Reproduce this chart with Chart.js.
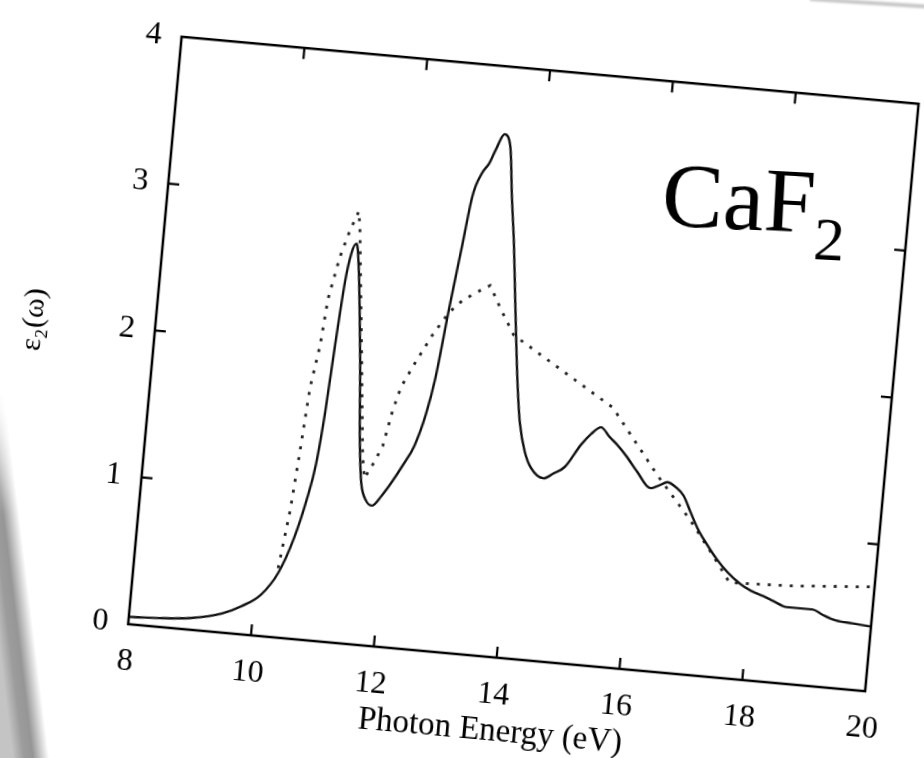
<!DOCTYPE html>
<html lang="en">

<head>
  <meta charset="utf-8">
  <title>CaF2 eps2</title>
  <script src="https://cdn.jsdelivr.net/npm/chart.js"></script>
  <style>
    body { margin: 0; width: 924px; height: 758px; overflow: hidden; background: #fff; position: relative; }
    #shade {
      position: absolute; left: -96px; top: 390px; width: 100px; height: 410px;
      background: linear-gradient(to right, #c4c4c4 0px, #c4c4c4 64px, #9c9c9c 75px, #969696 84px, #fff 100px);
      transform: rotate(-7deg); transform-origin: 100% 0;
      -webkit-mask-image: linear-gradient(to bottom, transparent 0%, #000 30%);
    }
    #edge {
      position: absolute; left: 810px; top: -3px; width: 140px; height: 4px;
      background: #c8c8c8; transform: rotate(3.7deg); transform-origin: 0 0; filter: blur(0.8px);
    }
    #wrap {
      position: absolute; left: 14.75px; top: 29.5px; width: 913px; height: 733px;
      transform-origin: 510px 327px; transform: rotate(5.2deg);
    }
    #label {
      position: absolute; left: 660px; top: 148px; font-family: "Liberation Serif", serif;
      font-size: 92px; line-height: 1; color: #000; white-space: nowrap;
      transform: rotate(3deg); transform-origin: 0 80%;
    }
    #label sub { font-size: 62px; vertical-align: -26px; }
  </style>
</head>

<body>
  <div id="shade"></div>
  <div id="edge"></div>
  <div id="wrap"><canvas id="chart" width="913" height="733"></canvas></div>
  <div id="label">CaF<sub>2</sub></div>

  <script>
    // solid curve
    const energy = [8.0, 8.5, 9.0, 9.5, 9.8, 10.1, 10.35, 10.55, 10.7, 10.8, 10.87, 10.93, 11.0, 11.06, 11.13,
      11.19, 11.28, 11.36, 11.47, 11.56, 11.66, 11.76, 11.9, 12.06, 12.2, 12.36, 12.5, 12.6, 12.72, 12.84,
      12.93, 13.06, 13.15, 13.24, 13.36, 13.47, 13.57, 13.67, 13.76, 13.84, 13.93, 14.03, 14.15, 14.28,
      14.49, 14.65, 14.82, 15.05, 15.2, 15.35, 15.5, 15.64, 15.8, 16.0, 16.23, 16.4, 16.5, 16.65, 16.78,
      16.92, 17.05, 17.2, 17.41, 17.6, 17.82, 18.0, 18.21, 18.4, 18.6, 18.8, 19.03, 19.2, 19.42, 19.7, 20.0];
    const eps2 = [0.05, 0.06, 0.08, 0.13, 0.19, 0.28, 0.44, 0.68, 0.95, 1.2, 1.55, 2.0, 2.45, 2.64, 2.71,
      2.58, 2.25, 1.92, 1.39, 1.09, 0.98, 0.95, 1.02, 1.13, 1.24, 1.38, 1.6, 1.85, 2.33, 2.77,
      3.1, 3.27, 3.33, 3.43, 3.54, 3.46, 3.12, 2.81, 2.48, 2.19, 1.88, 1.6, 1.41, 1.3,
      1.24, 1.28, 1.33, 1.49, 1.57, 1.62, 1.56, 1.51, 1.44, 1.34, 1.24, 1.27, 1.29, 1.26, 1.21,
      1.1, 1.0, 0.91, 0.8, 0.72, 0.65, 0.61, 0.58, 0.55, 0.52, 0.52, 0.52, 0.49, 0.46, 0.45, 0.44];

    // dotted curve
    const energyDot = [10.34, 10.45, 10.52, 10.59, 10.69, 10.75, 10.88, 11.0, 11.12, 11.16, 11.38, 11.54, 11.6,
      11.74, 11.85, 11.96, 12.06, 12.26, 12.49, 12.72, 12.92, 13.12, 13.35, 13.55, 13.8,
      15.51, 16.33, 16.92, 17.35, 17.65, 18.62, 20.0];
    const eps2Dot = [0.47, 0.87, 1.27, 1.71, 2.0, 2.32, 2.61, 2.79, 2.93, 2.82, 1.94, 1.28, 1.13,
      1.25, 1.36, 1.61, 1.77, 1.95, 2.14, 2.3, 2.39, 2.45, 2.51, 2.36, 2.19,
      1.76, 1.33, 1.05, 0.82, 0.65, 0.665, 0.71];

    const xTicks = [8, 10, 12, 14, 16, 18, 20];
    const yTicks = [0, 1, 2, 3, 4];

    const TICK = 11;
    const frameTicks = {
      id: 'frameTicks',
      afterDatasetsDraw(chart) {
        const { ctx, chartArea: a, scales: { x, y } } = chart;
        ctx.save();
        ctx.strokeStyle = '#000';
        ctx.lineWidth = 2.5;
        ctx.strokeRect(a.left, a.top, a.right - a.left, a.bottom - a.top);
        ctx.lineWidth = 2.2;
        ctx.beginPath();
        xTicks.slice(1, -1).forEach(v => {
          const px = x.getPixelForValue(v);
          ctx.moveTo(px, a.bottom); ctx.lineTo(px, a.bottom - TICK);
          ctx.moveTo(px, a.top); ctx.lineTo(px, a.top + TICK);
        });
        yTicks.slice(1, -1).forEach(v => {
          const py = y.getPixelForValue(v);
          ctx.moveTo(a.left, py); ctx.lineTo(a.left + TICK, py);
          ctx.moveTo(a.right, py); ctx.lineTo(a.right - TICK, py);
        });
        ctx.stroke();
        ctx.restore();
      }
    };

    const serif = "'Liberation Serif', 'Times New Roman', serif";

    new Chart(document.getElementById('chart'), {
      type: 'line',
      data: {
        datasets: [
          {
            data: energy.map((e, i) => ({ x: e, y: eps2[i] })),
            borderColor: '#111',
            borderWidth: 2.4,
            pointRadius: 0,
            cubicInterpolationMode: 'monotone'
          },
          {
            data: energyDot.map((e, i) => ({ x: e, y: eps2Dot[i] })),
            borderColor: '#222',
            borderWidth: 2.8,
            borderDash: [3, 8],
            pointRadius: 0,
            tension: 0
          }
        ]
      },
      options: {
        responsive: false,
        animation: false,
        devicePixelRatio: 1,
        layout: { padding: { top: 25, right: 30, bottom: 10, left: 0 } },
        plugins: { legend: { display: false }, tooltip: { enabled: false } },
        scales: {
          x: {
            type: 'linear', min: 8, max: 20,
            grid: { display: false, drawTicks: false },
            border: { display: false },
            ticks: { stepSize: 2, padding: 18, color: '#000', font: { family: serif, size: 32 } },
            title: { display: true, text: 'Photon Energy (eV)', color: '#000', padding: 0, font: { family: serif, size: 33 } },
            afterFit(s) { s.height = 94; }
          },
          y: {
            min: 0, max: 4,
            grid: { display: false, drawTicks: false },
            border: { display: false },
            ticks: { stepSize: 1, padding: 20, color: '#000', font: { family: serif, size: 32 } },
            title: { display: true, text: 'ε₂(ω)', color: '#000', padding: 0, font: { family: serif, size: 30 } },
            afterFit(s) { s.width = 139; }
          }
        }
      },
      plugins: [frameTicks]
    });
  </script>
</body>

</html>
